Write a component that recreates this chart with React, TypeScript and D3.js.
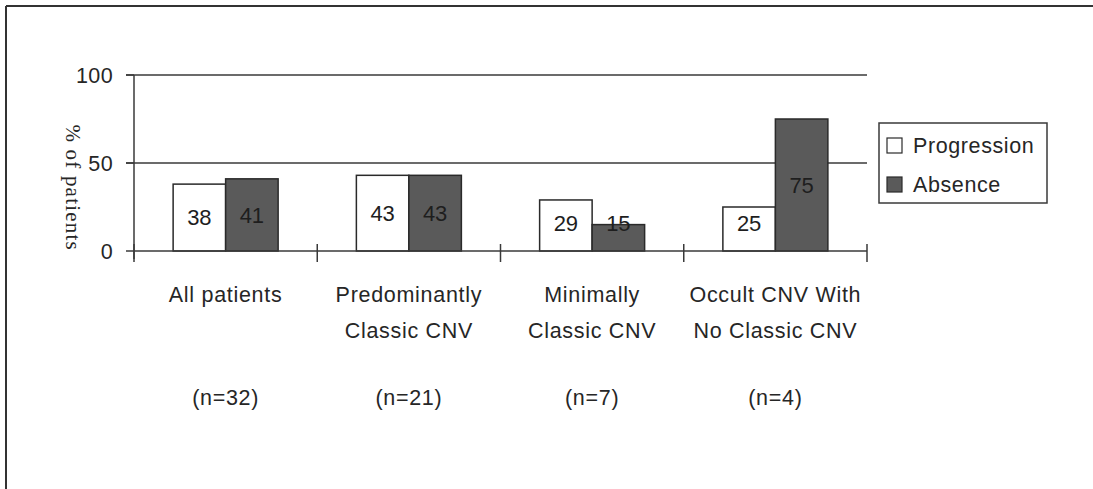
import * as d3 from 'd3';

// Chart data
const categories = ['All patients', 'Predominantly|Classic CNV', 'Minimally|Classic CNV', 'Occult CNV With|No Classic CNV'];
const sampleSizes = ['(n=32)', '(n=21)', '(n=7)', '(n=4)'];
const seriesNames = ['Progression', 'Absence'];
const progression = [38, 43, 29, 25];
const absence = [41, 43, 15, 75];
const yTicks = [0, 50, 100];

const W = 1093;
const H = 489;
const SANS = 'Arial, "Liberation Sans", Helvetica, sans-serif';
const DARK = '#5a5a5a';
const LINE = '#3a3a3a';
const TEXT = '#262626';

export default function App() {
  const x = d3.scaleBand<number>().domain(d3.range(categories.length)).range([134, 867]);
  const y = d3.scaleLinear().domain([0, 100]).range([251, 75]);
  const barW = 52.5;
  const series = [progression, absence];
  const fills = ['#ffffff', DARK];

  const ticksX = d3.range(categories.length + 1).map((i) => 134 + i * x.bandwidth());

  return (
    <div style={{ position: 'fixed', left: 0, top: 0 }}>
      <svg width={W} height={H} style={{ display: 'block', background: '#fff' }}>
        {/* frame (cropped) */}
        <line x1={6} y1={6} x2={W} y2={6} stroke="#333" strokeWidth={2} />
        <line x1={6} y1={6} x2={6} y2={H} stroke="#333" strokeWidth={2} />

        {/* gridlines */}
        {yTicks.filter((t) => t > 0).map((t) => (
          <line key={t} x1={126} x2={867} y1={y(t)} y2={y(t)} stroke={LINE} strokeWidth={1.5} />
        ))}

        {/* bars */}
        {series.map((vals, s) =>
          vals.map((v, i) => {
            const cx = x(i)! + x.bandwidth() / 2;
            const bx = cx - barW + s * barW;
            return (
              <rect
                key={`${s}-${i}`}
                x={bx}
                y={y(v)}
                width={barW}
                height={y(0) - y(v)}
                fill={fills[s]}
                stroke="#2a2a2a"
                strokeWidth={1.5}
              />
            );
          })
        )}

        {/* value labels */}
        {series.map((vals, s) =>
          vals.map((v, i) => {
            const cx = x(i)! + x.bandwidth() / 2;
            const lx = cx - barW / 2 + s * barW;
            return (
              <text
                key={`l${s}-${i}`}
                x={lx}
                y={y(Math.max(v / 2, 16))}
                dy="0.36em"
                textAnchor="middle"
                fontFamily={SANS}
                fontSize={22}
                fill="#1e1e1e"
              >
                {v}
              </text>
            );
          })
        )}

        {/* y axis */}
        <line x1={134} x2={134} y1={y(100)} y2={y(0) + 8} stroke={LINE} strokeWidth={1.5} />
        {yTicks.map((t) => (
          <g key={t}>
            <line x1={126} x2={134} y1={y(t)} y2={y(t)} stroke={LINE} strokeWidth={1.5} />
            <text
              x={113}
              y={y(t)}
              dy="0.36em"
              textAnchor="end"
              fontFamily={SANS}
              fontSize={21.5}
              letterSpacing={0.4}
              fill={TEXT}
            >
              {t}
            </text>
          </g>
        ))}
        <text
          transform={`translate(73, ${y(36)}) rotate(90)`}
          textAnchor="middle"
          dy="0.32em"
          fontFamily='"Times New Roman", "Liberation Serif", serif'
          fontSize={21}
          letterSpacing={1.2}
          fill={TEXT}
        >
          % of patients
        </text>

        {/* x axis */}
        <line x1={134} x2={867} y1={y(0)} y2={y(0)} stroke={LINE} strokeWidth={1.5} />
        {ticksX.map((tx, i) => (
          <line key={i} x1={tx} x2={tx} y1={y(0) - 7} y2={y(0) + 11} stroke={LINE} strokeWidth={1.5} />
        ))}

        {/* category labels */}
        {categories.map((c, i) => {
          const cx = x(i)! + x.bandwidth() / 2;
          return (
            <g key={c}>
              {c.split('|').map((ln, j) => (
                <text
                  key={j}
                  x={cx}
                  y={302 + j * 36}
                  textAnchor="middle"
                  fontFamily={SANS}
                  fontSize={21.5}
                  letterSpacing={0.7}
                  fill={TEXT}
                >
                  {ln}
                </text>
              ))}
              <text
                x={cx}
                y={405}
                textAnchor="middle"
                fontFamily={SANS}
                fontSize={21.5}
                letterSpacing={0.7}
                fill={TEXT}
              >
                {sampleSizes[i]}
              </text>
            </g>
          );
        })}

        {/* legend */}
        <rect x={879} y={123} width={168} height={80} fill="#fff" stroke={LINE} strokeWidth={1.5} />
        {seriesNames.map((n, i) => (
          <g key={n}>
            <rect x={887} y={138 + i * 39} width={15} height={15} fill={fills[i]} stroke="#2a2a2a" strokeWidth={1.2} />
            <text x={913} y={153 + i * 39} fontFamily={SANS} fontSize={21.5} letterSpacing={0.6} fill={TEXT}>
              {n}
            </text>
          </g>
        ))}
      </svg>
    </div>
  );
}
